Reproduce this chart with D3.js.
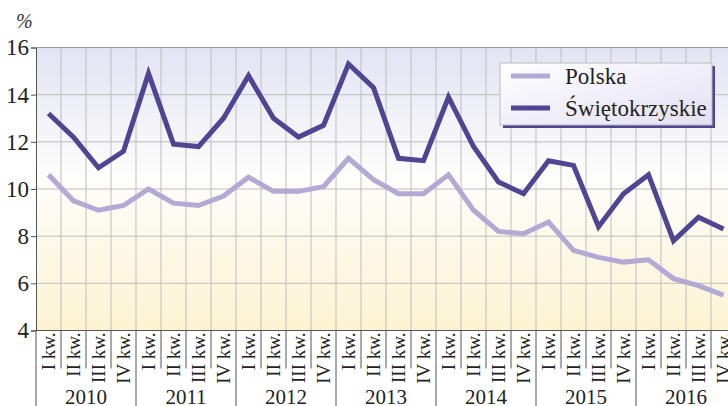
<!DOCTYPE html>
<html>
<head>
<meta charset="utf-8">
<script src="https://cdn.jsdelivr.net/npm/d3@7"></script>
<style>
  body { margin: 0; background: #fff; }
  svg text { font-family: "Liberation Serif", "Times New Roman", serif; }
</style>
</head>
<body>
<div id="container"></div>
<script>
/* DATA */
const years = ["2010", "2011", "2012", "2013", "2014", "2015", "2016"];
const quarters = ["I kw.", "II kw.", "III kw.", "IV kw."];
const polska = [10.6, 9.5, 9.1, 9.3, 10.0, 9.4, 9.3, 9.7, 10.5, 9.9, 9.9, 10.1, 11.3, 10.4,
  9.8, 9.8, 10.6, 9.1, 8.2, 8.1, 8.6, 7.4, 7.1, 6.9, 7.0, 6.2, 5.9, 5.5];
const swietokrzyskie = [13.2, 12.2, 10.9, 11.6, 14.9, 11.9, 11.8, 13.0, 14.8, 13.0, 12.2, 12.7, 15.3, 14.3,
  11.3, 11.2, 13.9, 11.8, 10.3, 9.8, 11.2, 11.0, 8.4, 9.8, 10.6, 7.8, 8.8, 8.3];
const yTicks = [4, 6, 8, 10, 12, 14, 16];

/* CONSTANTS */
const width = 728, height = 406;
const margin = { left: 36, top: 47.5 };
const bandW = 25;
const innerW = bandW * 28, innerH = 283;
const serif = "'Liberation Serif', 'Times New Roman', serif";

const periods = [];
years.forEach(y => quarters.forEach(q => periods.push(y + " " + q)));

const svg = d3.select("#container").append("svg")
  .attr("width", width).attr("height", height);

const defs = svg.append("defs");
const bg = defs.append("linearGradient").attr("id", "bg").attr("x1", 0).attr("y1", 0).attr("x2", 0).attr("y2", 1);
bg.append("stop").attr("offset", "0%").attr("stop-color", "#e3e3f3");
bg.append("stop").attr("offset", "45%").attr("stop-color", "#fdfdfb");
bg.append("stop").attr("offset", "100%").attr("stop-color", "#fcf3d2");
const lg = defs.append("linearGradient").attr("id", "lg").attr("x1", 0).attr("y1", 0).attr("x2", 1).attr("y2", 1);
lg.append("stop").attr("offset", "0%").attr("stop-color", "#ffffff");
lg.append("stop").attr("offset", "100%").attr("stop-color", "#e2e0f3");

/* SCALES */
const x = d3.scaleBand().domain(periods).range([margin.left, margin.left + innerW]).padding(0);
const y = d3.scaleLinear().domain([4, 16]).range([margin.top + innerH, margin.top]);

// plot background
svg.append("rect")
  .attr("x", margin.left).attr("y", margin.top)
  .attr("width", innerW).attr("height", innerH)
  .attr("fill", "url(#bg)");

// grid
svg.append("g").selectAll("line")
  .data(periods.slice(1))
  .join("line")
  .attr("x1", d => x(d)).attr("x2", d => x(d))
  .attr("y1", margin.top).attr("y2", margin.top + innerH)
  .attr("stroke", "#bdbdbd").attr("stroke-width", 1);

svg.append("g").selectAll("line")
  .data(yTicks)
  .join("line")
  .attr("x1", margin.left).attr("x2", margin.left + innerW)
  .attr("y1", d => y(d)).attr("y2", d => y(d))
  .attr("stroke", "#bdbdbd").attr("stroke-width", 1);

/* Y AXIS */
const yAxis = d3.axisLeft(y).tickValues(yTicks).tickSize(5).tickPadding(2);
const gy = svg.append("g").attr("transform", `translate(${margin.left},0)`).call(yAxis)
  .attr("font-family", serif);
gy.select(".domain").attr("stroke", "#555");
gy.selectAll(".tick line").attr("stroke", "#555");
gy.selectAll(".tick text")
  .attr("font-size", 23).attr("fill", "#222")
  .style("font-family", serif);

svg.append("text")
  .attr("x", 16).attr("y", 28)
  .attr("font-size", 20).attr("font-style", "italic").attr("fill", "#333")
  .style("font-family", serif)
  .text("%");

/* X AXIS */
const axisY = margin.top + innerH;
svg.append("line")
  .attr("x1", margin.left).attr("x2", width)
  .attr("y1", axisY).attr("y2", axisY)
  .attr("stroke", "#555");

// quarter separators
svg.append("g").selectAll("line")
  .data(periods)
  .join("line")
  .attr("x1", d => x(d)).attr("x2", d => x(d))
  .attr("y1", axisY)
  .attr("y2", (d, i) => i % 4 === 0 ? height : axisY + 38)
  .attr("stroke", "#555");

svg.append("g").selectAll("text")
  .data(periods)
  .join("text")
  .attr("transform", d => `translate(${x(d) + bandW / 2},${axisY + 2}) rotate(-90)`)
  .attr("text-anchor", "end")
  .attr("dy", "0.33em")
  .attr("font-size", 19).attr("fill", "#222")
  .style("font-family", serif)
  .text((d, i) => quarters[i % 4]);

svg.append("g").selectAll("text")
  .data(years)
  .join("text")
  .attr("x", (d, i) => x(periods[i * 4]) + bandW * 2)
  .attr("y", 404)
  .attr("text-anchor", "middle")
  .attr("font-size", 21).attr("fill", "#222")
  .style("font-family", serif)
  .text(d => d);

/* LINES */
const line = d3.line().x((d, i) => x(periods[i]) + bandW / 2).y(d => y(d));

svg.append("path").datum(polska)
  .attr("d", line).attr("fill", "none")
  .attr("stroke", "#b2a9d5").attr("stroke-width", 5).attr("stroke-linejoin", "miter");

svg.append("path").datum(swietokrzyskie)
  .attr("d", line).attr("fill", "none")
  .attr("stroke", "#4f4592").attr("stroke-width", 5).attr("stroke-linejoin", "miter");

// top border
svg.append("line")
  .attr("x1", margin.left).attr("x2", width)
  .attr("y1", margin.top).attr("y2", margin.top)
  .attr("stroke", "#999");

/* LEGEND */
const legend = svg.append("g").attr("transform", "translate(500,63)");
legend.append("rect").attr("x", 3).attr("y", 3).attr("width", 212).attr("height", 62).attr("fill", "#4f4592");
legend.append("rect").attr("width", 212).attr("height", 62)
  .attr("fill", "url(#lg)").attr("stroke", "#bbb").attr("stroke-width", 1);

const items = [["Polska", "#b2a9d5"], ["Świętokrzyskie", "#4f4592"]];
items.forEach(([name, col], i) => {
  const yy = 13 + i * 32;
  legend.append("line").attr("x1", 11).attr("x2", 50).attr("y1", yy).attr("y2", yy)
    .attr("stroke", col).attr("stroke-width", 5);
  legend.append("text").attr("x", 65).attr("y", yy).attr("dy", "0.35em")
    .attr("font-size", 23).attr("fill", "#222")
    .style("font-family", serif)
    .text(name);
});
</script>
</body>
</html>
